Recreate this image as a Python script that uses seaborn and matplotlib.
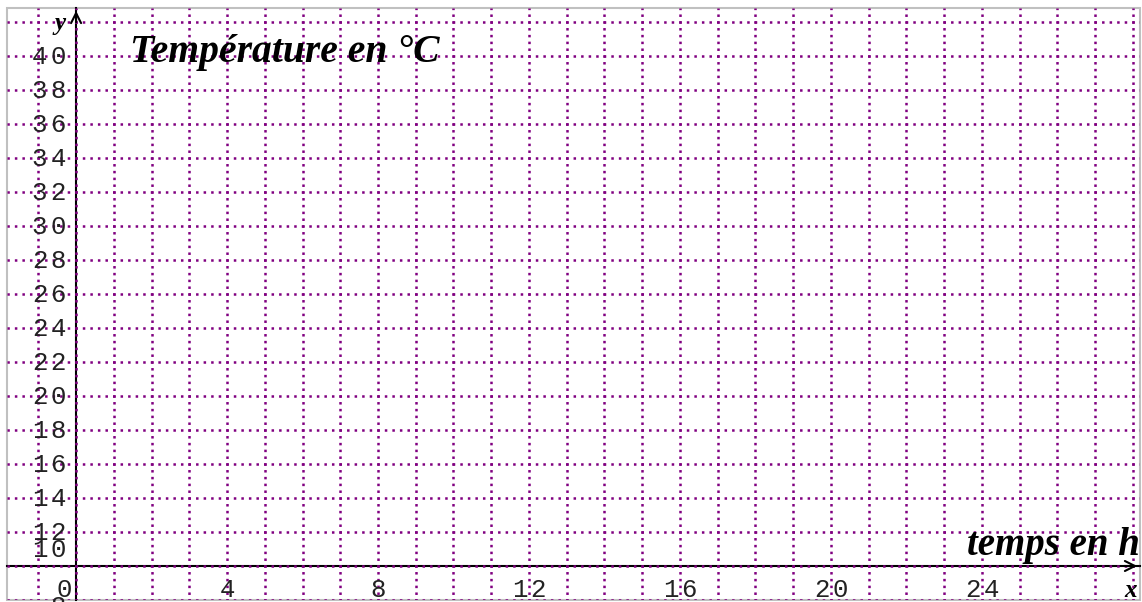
import matplotlib
matplotlib.use("Agg")
import matplotlib.pyplot as plt
import numpy as np
import seaborn as sns
from matplotlib.patches import Rectangle
from matplotlib.ticker import MultipleLocator

# axis values
x_ticks = [4, 8, 12, 16, 20, 24]
x_labels = ["4", "8", "12", "16", "20", "24"]
y_ticks = [12, 14, 16, 18, 20, 22, 24, 26, 28, 30, 32, 34, 36, 38, 40]
y_labels = [str(v) for v in y_ticks]
x_range = (-1.83, 28.19)
y_range = (8.0, 42.82)

title_txt = "Température en °C"
xlabel_txt = "temps en h"

sns.set_theme(style="white")
plt.rcParams["lines.scale_dashes"] = False
plt.rcParams["font.family"] = ["Liberation Mono", "DejaVu Sans"]

purple = "#800080"
mono = "Liberation Mono"
serif = "Liberation Serif"
num_col = "#222222"
num_size = 18.5
adv = 18.5  # pixels between digits (spaced-out numbers)

fig = plt.figure(figsize=(11.42, 6.02), dpi=100)
ax = fig.add_axes([7 / 1142, 2 / 602, 1133 / 1142, 592 / 602])
ax.set_xlim(*x_range)
ax.set_ylim(*y_range)

# axes crossing at (0, 10)
sns.despine(ax=ax)
ax.spines["left"].set_position(("data", 0))
ax.spines["bottom"].set_position(("data", 10))
for s in ["left", "bottom"]:
    ax.spines[s].set_color("black")
    ax.spines[s].set_linewidth(1.5)

ax.set_xticks(x_ticks, labels=[""] * len(x_ticks))
ax.set_yticks(y_ticks, labels=[""] * len(y_ticks))
ax.xaxis.set_minor_locator(MultipleLocator(1))
ax.yaxis.set_minor_locator(MultipleLocator(2))
ax.tick_params(axis="x", which="major", direction="inout", length=11.5, width=1.3, color="black")
ax.tick_params(axis="y", which="major", direction="inout", length=10.8, width=1.3, color="black")
ax.tick_params(which="minor", length=0)

# dotted purple grid
ax.set_axisbelow(False)
ax.xaxis.grid(True, which="both", color=purple, linewidth=1.8,
              linestyle=(0.9, (1.8, 3.096)), dash_capstyle="butt")
ax.yaxis.grid(True, which="both", color=purple, linewidth=1.8,
              linestyle=(5.576, (1.8, 3.636)), dash_capstyle="butt")


def spaced(x, y, text, dx, dy, align="right"):
    # draw a number one digit at a time, with wide spacing
    n = len(text)
    for i, ch in enumerate(text):
        if align == "right":
            off = dx - (n - 1 - i) * adv
        else:
            off = dx + (i - (n - 1) / 2) * adv
        ax.annotate(ch, xy=(x, y), xytext=(off, dy), textcoords="offset pixels",
                    ha="center", va="baseline", fontsize=num_size, family=mono,
                    color=num_col, annotation_clip=False)


for v, s in zip(y_ticks, y_labels):
    spaced(0, v, s, -18, -8.5)
for v, s in zip(x_ticks, x_labels):
    spaced(v, 10, s, 0, -31, align="center")
spaced(0, 10, "10", -18, 8.5)
spaced(0, 10, "8", -18, -48)
spaced(0, 10, "0", -12, -31)

# arrows
ax.annotate("", xy=(x_range[1], 10), xytext=(x_range[1] - 0.5, 10),
            arrowprops=dict(arrowstyle="->,head_length=0.6,head_width=0.3", color="black", lw=1.5),
            annotation_clip=False)
ax.annotate("", xy=(0, y_range[1]), xytext=(0, y_range[1] - 1),
            arrowprops=dict(arrowstyle="->,head_length=0.6,head_width=0.3", color="black", lw=1.5),
            annotation_clip=False)

# titles
ax.text(1.43, 39.65, title_txt, ha="left", va="baseline", fontsize=28.5,
        family=serif, fontweight="bold", fontstyle="italic", color="black")
ax.text(23.6, 10.65, xlabel_txt, ha="left", va="baseline", fontsize=28,
        family=serif, fontweight="bold", fontstyle="italic", color="black", clip_on=False)
ax.text(-0.42, 41.5, "y", ha="center", va="baseline", fontsize=18,
        family=serif, fontweight="bold", fontstyle="italic", color="black")
ax.text(27.95, 8.2, "x", ha="center", va="baseline", fontsize=18,
        family=serif, fontweight="bold", fontstyle="italic", color="black")

# gray frame
ax.add_patch(Rectangle((0, 0), 1, 1, transform=ax.transAxes, fill=False,
                       edgecolor="#c0c0c0", linewidth=1.5, clip_on=False, zorder=0))

fig.savefig("out.png", dpi=100)
